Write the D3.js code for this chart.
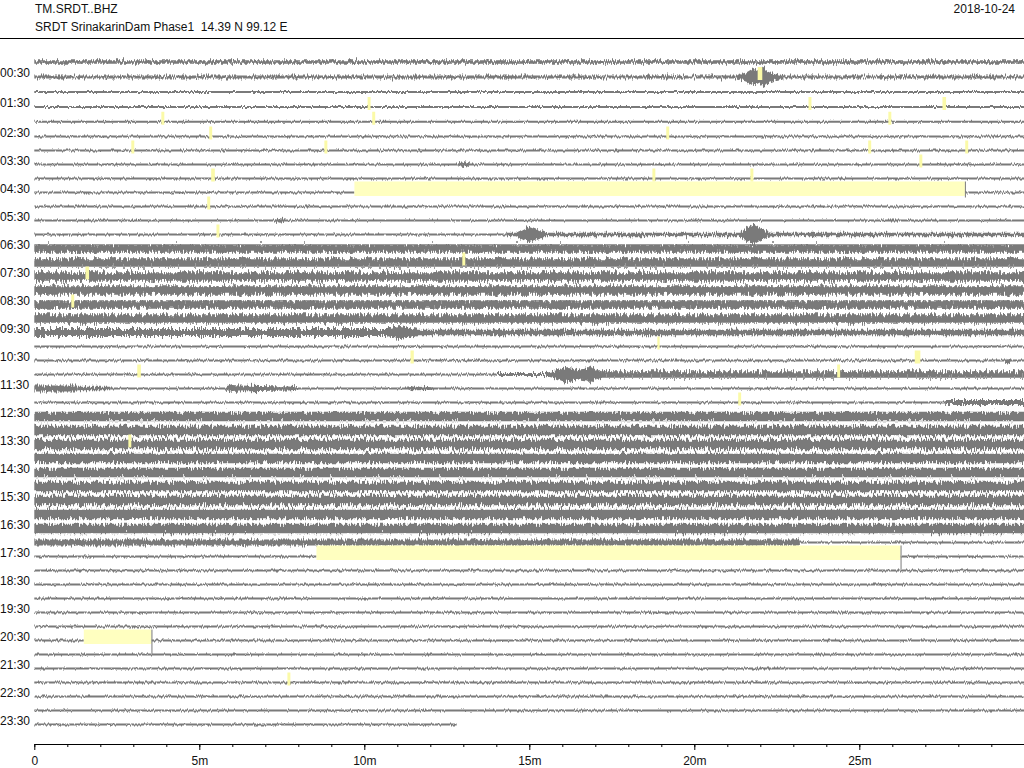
<!DOCTYPE html>
<html>
<head>
<meta charset="utf-8">
<script src="https://cdn.jsdelivr.net/npm/d3@7"></script>
<style>
  body { margin: 0; background: #fff; }
  svg { display: block; font-family: "Liberation Sans", Arial, Helvetica, sans-serif; }
</style>
</head>
<body>
<svg id="chart" width="1024" height="768"></svg>
<script>
// ---------------- data ----------------
const stationCode = "TM.SRDT..BHZ";
const stationInfo = "SRDT SrinakarinDam Phase1  14.39 N 99.12 E";
const plotDate = "2018-10-24";

// one trace per 30 minutes, 48 traces; labels on the :30 traces
const rowLabels = ["00:30","01:30","02:30","03:30","04:30","05:30","06:30","07:30",
  "08:30","09:30","10:30","11:30","12:30","13:30","14:30","15:30","16:30","17:30",
  "18:30","19:30","20:30","21:30","22:30","23:30"];
const labelRows = [1,3,5,7,9,11,13,15,17,19,21,23,25,27,29,31,33,35,37,39,41,43,45,47];

const minuteTicks = [0,1,2,3,4,5,6,7,8,9,10,11,12,13,14,15,16,17,18,19,20,21,22,23,24,25,26,27,28,29,30];
const majorTicks = [0,5,10,15,20,25];
const majorLabels = ["0","5m","10m","15m","20m","25m"];

// background amplitude (relative units) per trace
const baseAmp = [
  1.8, 1.6, 1.1, 1.1, 1.1, 1.1, 1.1, 1.1, 1.1, 1.1,
  1.1, 1.1, 1.1, 4.2, 4.2, 4.2, 4.2, 4.2, 4.2, 3.4,
  1.1, 1.1, 1.1, 1.1, 1.1, 4.7, 4.7, 4.7, 4.7, 4.7,
  4.7, 4.7, 4.7, 4.7, 3.0, 1.1, 1.1, 1.1, 1.1, 1.1,
  1.1, 1.1, 1.1, 1.1, 1.1, 1.1, 1.1, 1.1
];
const lastRowEnd = 12.8; // minutes of data in the last trace

// changes of background amplitude within a trace (minutes)
const ampSegRow  = [12,   19,   22,   22,   23,  23,  24,   34];
const ampSegFrom = [14.3, 11.5, 14.0, 16.9, 0.0, 1.3, 27.6, 23.2];
const ampSegTo   = [30,   30,   15.6, 30,   1.3, 2.3, 30,   30];
const ampSegAmp  = [1.8,  2.8,  1.6,  3.2,  3.0, 1.8, 2.5,  1.1];

// events: envelope key points (minutes, relative amplitude)
const eventRow = [1, 7, 11, 12, 12, 19, 22, 23, 23, 21];
const eventT = [
  [21.3, 21.6, 21.8, 21.95, 22.1, 22.25, 22.5, 22.7],
  [12.85, 13.0, 13.2],
  [7.3, 7.45, 7.6],
  [14.6, 14.85, 15.0, 15.2, 15.5],
  [21.4, 21.6, 21.8, 22.0, 22.3],
  [10.7, 10.95, 11.1, 11.3, 11.6],
  [15.5, 15.8, 16.0, 16.2, 16.5, 16.75, 16.85, 17.0, 17.2],
  [5.8, 6.0, 6.2, 6.8, 7.7, 8.0],
  [11.3, 11.5, 11.9, 12.1],
  [29.4, 29.5, 29.6]
];
const eventA = [
  [1.6, 5, 9, 6, 10, 6, 3, 1.6],
  [1.1, 2.6, 1.1],
  [1.1, 2.2, 1.1],
  [1.8, 6, 8.5, 6, 1.8],
  [1.8, 7, 10, 6, 1.8],
  [3.4, 6, 6.5, 5, 2.8],
  [1.6, 4, 6.5, 7.5, 5, 6, 9, 5, 3.2],
  [1.1, 3.5, 3, 2.5, 2, 1.1],
  [1.1, 1.8, 1.5, 1.1],
  [1.1, 2, 1.1]
];

// long data gaps (minutes)
const gapRow   = [9,    35,   41];
const gapStart = [9.7,  8.55, 1.5];
const gapEnd   = [28.2, 26.25, 3.55];

// short gaps (minutes, duration in minutes)
const markRow = [1, 3, 3, 3, 4, 4, 4, 5, 5, 6, 6, 6, 6, 7, 8, 8, 8, 10, 12, 14, 15, 17, 20, 21, 21, 22, 22, 24, 27, 44];
const markT   = [21.92, 10.1, 23.46, 27.52, 3.85, 10.24, 25.88, 5.3, 19.15, 2.94, 8.79, 25.27, 28.21,
                 26.82, 5.36, 18.73, 21.7, 5.24, 5.52, 12.97, 1.55, 1.12, 18.88, 11.4, 26.68,
                 3.12, 24.33, 21.33, 2.85, 7.67];
const markDur = [0.14, 0.09, 0.09, 0.11, 0.09, 0.09, 0.09, 0.09, 0.09, 0.09, 0.09, 0.09, 0.09,
                 0.09, 0.11, 0.09, 0.09, 0.09, 0.09, 0.09, 0.11, 0.09, 0.07, 0.1, 0.17,
                 0.11, 0.09, 0.09, 0.09, 0.09];

// ---------------- drawing ----------------
const svg = d3.select("#chart");
const W = 1024, H = 768;
const traceColor = "#7a7a7a";
const gapColor = "#ffffc0";
const markColor = "#fbfaa8";

const xs = d3.scaleLinear().domain([0, 30]).range([34.3, 1024.3]);
const ys = d3.scaleLinear().domain([0, 1, 3, 5, 47]).range([62, 77, 107, 136.5, 724.5]);
const as = d3.scaleLinear().domain([0, 1]).range([0, 1]);

// jitter filters (visual texture of the waveform band)
const defs = svg.append("defs");
[["jitLow", 3.5, "1.3 0.09"], ["jitMid", 7, "1.1 0.09"], ["jitHigh", 12, "1.0 0.09"], ["jitEvent", 9, "0.9 0.09"]]
.forEach(([id, sc, freq]) => {
  const f = defs.append("filter").attr("id", id)
    .attr("filterUnits", "userSpaceOnUse")
    .attr("x", 0).attr("y", 40).attr("width", W).attr("height", 700)
    .attr("color-interpolation-filters", "sRGB");
  f.append("feTurbulence").attr("type", "fractalNoise")
    .attr("baseFrequency", freq).attr("numOctaves", 2).attr("seed", 7).attr("result", "n");
  f.append("feColorMatrix").attr("in", "n").attr("type", "matrix")
    .attr("values", "0 0 0 0 0.5  0 1 0 0 0  0 0 0 0 0  0 0 0 0 1").attr("result", "m");
  f.append("feDisplacementMap").attr("in", "SourceGraphic").attr("in2", "m")
    .attr("scale", sc).attr("xChannelSelector", "R").attr("yChannelSelector", "G");
});

function splitIntervals(iv, from, to, amp) {
  const out = [];
  iv.forEach(v => {
    if (to <= v.from || from >= v.to) { out.push(v); return; }
    if (from > v.from) out.push({ from: v.from, to: from, amp: v.amp });
    if (amp !== null) out.push({ from: Math.max(v.from, from), to: Math.min(v.to, to), amp });
    if (to < v.to) out.push({ from: to, to: v.to, amp: v.amp });
  });
  return out;
}

function rowIntervals(r) {
  const end = r === 47 ? lastRowEnd : 30;
  let iv = [{ from: 0, to: end, amp: baseAmp[r] }];
  ampSegRow.forEach((row, i) => {
    if (row === r) iv = splitIntervals(iv, ampSegFrom[i], ampSegTo[i], ampSegAmp[i]);
  });
  gapRow.forEach((row, i) => {
    if (row === r) iv = splitIntervals(iv, gapStart[i], gapEnd[i], null);
  });
  return iv;
}

const traces = svg.append("g").attr("class", "traces");
const filterFor = a => a < 1.5 ? "jitLow" : (a < 3.2 ? "jitMid" : "jitHigh");
d3.range(48).forEach(r => {
  const band = d3.area()
    .x(d => xs(d.t))
    .y0(d => ys(r) + as(d.a))
    .y1(d => ys(r) - as(d.a));
  rowIntervals(r).forEach(v => {
    traces.append("path")
      .attr("d", band([{ t: v.from, a: v.amp }, { t: v.to, a: v.amp }]))
      .attr("fill", traceColor)
      .attr("filter", `url(#${filterFor(v.amp)})`);
  });
  eventRow.forEach((row, i) => {
    if (row !== r) return;
    const pts = eventT[i].map((t, k) => ({ t, a: eventA[i][k] }));
    traces.append("path").attr("d", band(pts)).attr("fill", traceColor)
      .attr("filter", "url(#jitEvent)");
  });
});

// long gaps
const gapG = svg.append("g");
gapRow.forEach((r, i) => {
  gapG.append("rect")
    .attr("x", xs(gapStart[i])).attr("width", xs(gapEnd[i]) - xs(gapStart[i]))
    .attr("y", ys(r) - 11).attr("height", 14.5)
    .attr("fill", gapColor);
  gapG.append("line")
    .attr("x1", xs(gapEnd[i]) + 0.5).attr("x2", xs(gapEnd[i]) + 0.5)
    .attr("y1", ys(r) - 11).attr("y2", ys(r) + (r === 9 ? 5 : 14))
    .attr("stroke", traceColor).attr("stroke-width", 1);
});

// short gaps
const markG = svg.append("g");
markRow.forEach((r, i) => {
  markG.append("rect")
    .attr("x", xs(markT[i])).attr("width", xs(markT[i] + markDur[i]) - xs(markT[i]))
    .attr("y", ys(r) - 10).attr("height", 13)
    .attr("fill", markColor);
});

// row labels
svg.append("g").selectAll("text").data(labelRows).join("text")
  .attr("x", 0).attr("y", d => ys(d) - 3)
  .attr("dominant-baseline", "middle")
  .attr("font-size", 12).attr("fill", "#111")
  .text((d, i) => rowLabels[i]);

// header
svg.append("text").attr("x", 35).attr("y", 12.5).attr("font-size", 12).attr("fill", "#111").text(stationCode);
svg.append("text").attr("x", 35).attr("y", 30.5).attr("font-size", 12).attr("fill", "#111")
  .style("white-space", "pre").text(stationInfo);
svg.append("text").attr("x", 1015).attr("y", 12.5).attr("font-size", 12).attr("fill", "#111")
  .attr("text-anchor", "end").text(plotDate);
svg.append("line").attr("x1", 0).attr("x2", W).attr("y1", 38.5).attr("y2", 38.5)
  .attr("stroke", "#000").attr("stroke-width", 1);

// time axis
const axisY = 744;
const minorAxis = d3.axisBottom(xs).tickValues(minuteTicks).tickSize(3).tickSizeOuter(0).tickFormat("");
const majorAxis = d3.axisBottom(xs).tickValues(majorTicks).tickSize(6).tickSizeOuter(0).tickPadding(6)
  .tickFormat((d, i) => majorLabels[i]);
const gMinor = svg.append("g").attr("transform", `translate(0,${axisY})`).call(minorAxis);
const gMajor = svg.append("g").attr("transform", `translate(0,${axisY})`).call(majorAxis);
gMajor.select(".domain").remove();
[gMinor, gMajor].forEach(g => {
  g.selectAll("line").attr("stroke", "#000");
  g.selectAll(".domain").attr("stroke", "#000");
  g.selectAll("text").attr("font-size", 12).attr("fill", "#111")
    .attr("font-family", '"Liberation Sans", Arial, sans-serif');
});
</script>
</body>
</html>
